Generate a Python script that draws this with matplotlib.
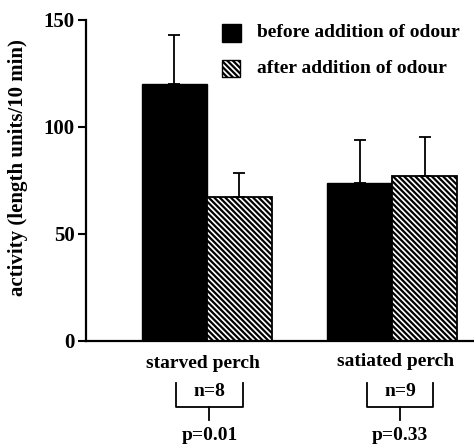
import numpy as np
import matplotlib.pyplot as plt
from matplotlib.patches import Rectangle

# data
groups = ['starved perch', 'satiated perch']
n_labels = ['n=8', 'n=9']
p_labels = ['p=0.01', 'p=0.33']
before = [120, 74]
before_err = [23, 20]
after = [67.5, 77]
after_err = [11, 18.5]
series = ['before addition of odour', 'after addition of odour']

plt.rcParams['font.family'] = ['Liberation Serif', 'DejaVu Serif']
plt.rcParams['font.weight'] = 'bold'
plt.rcParams['hatch.linewidth'] = 1.6

fig = plt.figure(figsize=(4.74, 4.44), dpi=100)
ax = fig.add_axes([0.181, 0.232, 0.817, 0.723])

x = np.arange(len(groups))
w = 0.35
hatch = '\\' * 6
ekw = dict(elinewidth=1.3, capsize=4.3, capthick=1.3, ecolor='black')
ax.bar(x - w/2, before, w, color='black', edgecolor='black', linewidth=1)
ax.errorbar(x - w/2, before, yerr=[np.zeros(2), before_err], fmt='none', **ekw)
ax.bar(x + w/2, after, w, color='white', edgecolor='black', linewidth=1.3,
       hatch=hatch)
ax.errorbar(x + w/2, after, yerr=[np.zeros(2), after_err], fmt='none', **ekw)

ax.set_xlim(-0.65, 1.435)
ax.set_ylim(0, 150)
ax.set_yticks([0, 50, 100, 150])
ax.tick_params(axis='y', length=6, width=1.5, labelsize=15, pad=2)
ax.set_xticks([])
for s in ['top', 'right']:
    ax.spines[s].set_visible(False)
ax.spines['left'].set_linewidth(1.6)
ax.spines['bottom'].set_linewidth(1.6)

ax.text(-0.175, 0.54, 'activity (length units/10 min)', transform=ax.transAxes,
        rotation=90, ha='center', va='center', fontsize=15)

# group labels, brackets, n and p values
label_dx = [-0.02, 0.016]
label_y = [-10.7, -9.8]
stems = [0.016, 0.043]
halfw = 0.178
for i in range(len(groups)):
    ax.text(x[i] + label_dx[i], label_y[i], groups[i], ha='center',
            va='center', fontsize=14, clip_on=False)
    c = x[i] + stems[i]
    ax.plot([c - halfw, c - halfw, c + halfw, c + halfw],
            [-19.6, -30.8, -30.8, -19.6], color='black', lw=1.3, clip_on=False)
    ax.plot([c, c], [-30.8, -37], color='black', lw=1.3, clip_on=False)
    ax.text(c, -23.8, n_labels[i], ha='center', va='center', fontsize=14,
            clip_on=False)
    ax.text(c, -44.3, p_labels[i], ha='center', va='center', fontsize=14,
            clip_on=False)

# legend drawn by hand
ax.add_patch(Rectangle((0.351, 0.931), 0.05, 0.057, transform=ax.transAxes,
                       facecolor='black', edgecolor='black', clip_on=False))
ax.add_patch(Rectangle((0.351, 0.822), 0.047, 0.053, transform=ax.transAxes,
                       facecolor='white', edgecolor='black', hatch=hatch,
                       lw=1, clip_on=False))
ax.text(0.441, 0.96, series[0], transform=ax.transAxes, va='center',
        fontsize=14)
ax.text(0.441, 0.85, series[1], transform=ax.transAxes, va='center',
        fontsize=14)

fig.savefig('out.png', dpi=100)
